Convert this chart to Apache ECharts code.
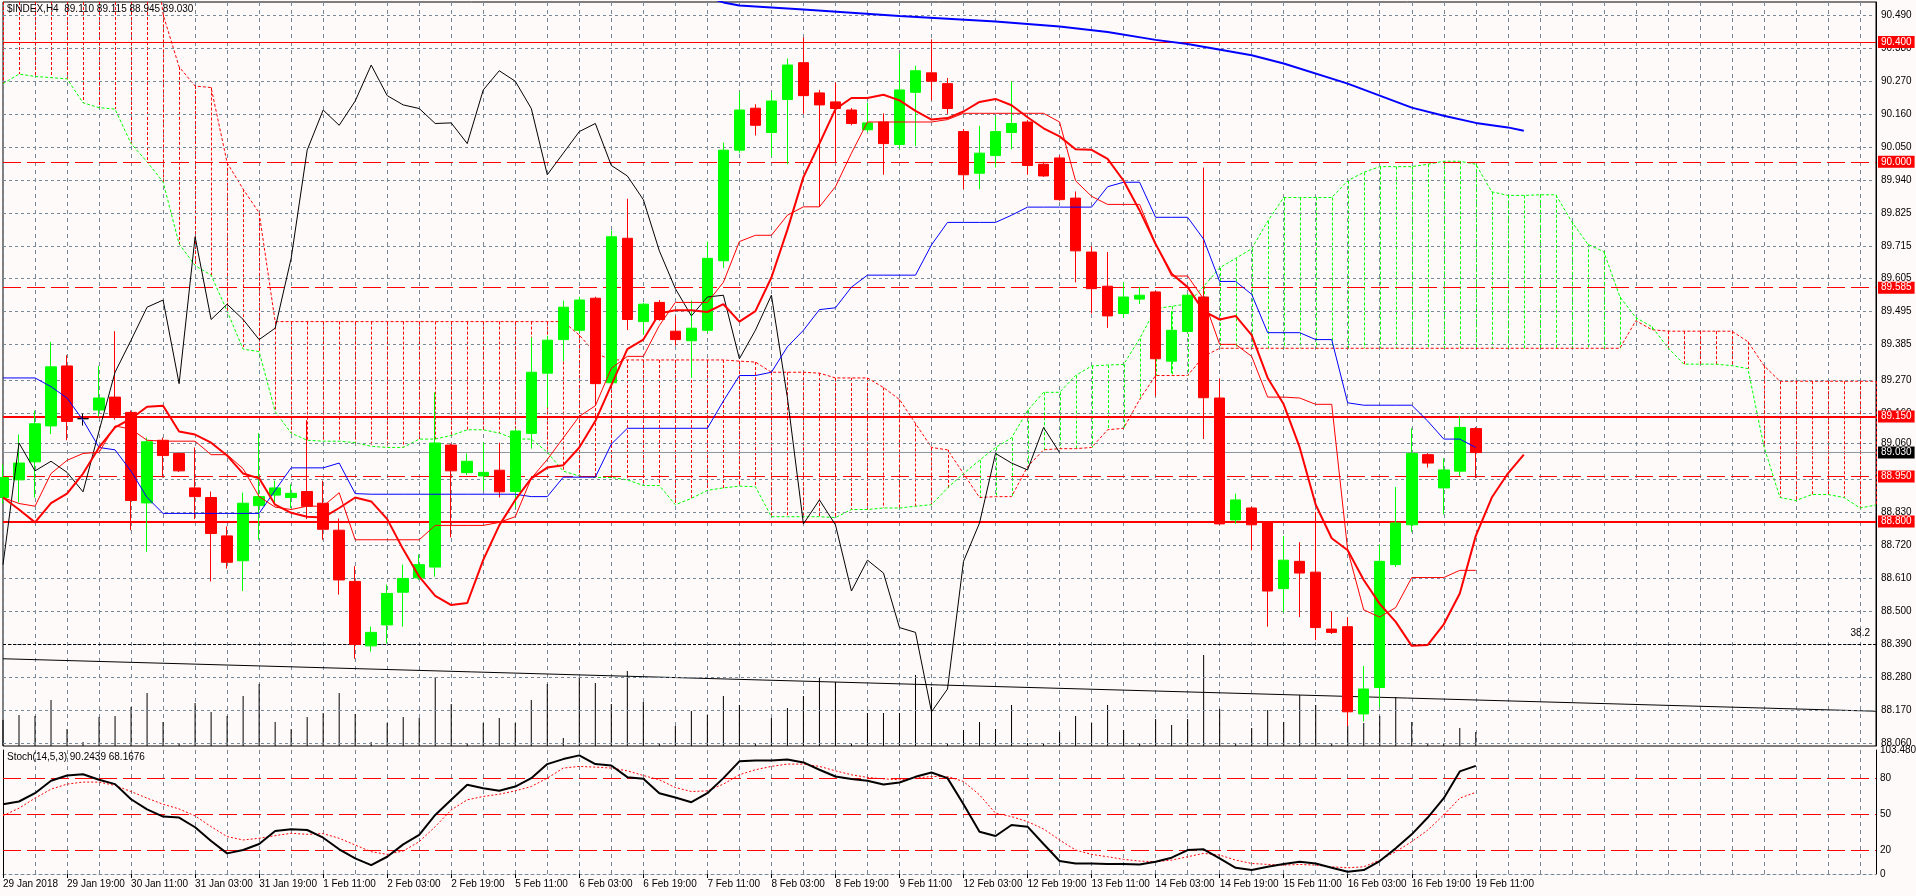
<!DOCTYPE html>
<html><head><meta charset="utf-8">
<script src="https://cdn.jsdelivr.net/npm/echarts@6/dist/echarts.min.js"></script>
<style>html,body{margin:0;padding:0;background:#FFFAFA;}#c{width:1916px;height:896px;}</style>
</head><body><div id="c"></div>
<script>
const FONT = 'Liberation Sans';
const symbolName = '$INDEX,H4';
const stochName = 'Stoch(14,5,3)';
const stochLast = ['90.2439', '68.1676'];

const xTickLabels = ['29 Jan 2018','29 Jan 19:00','30 Jan 11:00','31 Jan 03:00','31 Jan 19:00','1 Feb 11:00','2 Feb 03:00','2 Feb 19:00','5 Feb 11:00','6 Feb 03:00','6 Feb 19:00','7 Feb 11:00','8 Feb 03:00','8 Feb 19:00','9 Feb 11:00','12 Feb 03:00','12 Feb 19:00','13 Feb 11:00','14 Feb 03:00','14 Feb 19:00','15 Feb 11:00','16 Feb 03:00','16 Feb 19:00','19 Feb 11:00'];
const yTickLabels = ['90.490','90.380','90.270','90.160','90.050','89.940','89.825','89.715','89.605','89.495','89.385','89.270','89.160','89.060','88.945','88.830','88.720','88.610','88.500','88.390','88.280','88.170','88.060'];
const stochTickLabels = ['103.4805','80','50','20','0'];
const stochLevels = [80, 50, 20];

const openP = [88.880,88.939,88.999,89.119,89.319,89.143,89.172,89.215,89.164,88.862,
89.071,89.027,88.912,88.880,88.752,88.669,88.853,88.888,88.880,88.900,
88.861,88.771,88.600,88.385,88.455,88.564,88.612,88.648,89.055,88.963,
88.952,88.971,88.900,89.094,89.295,89.407,89.438,89.545,89.263,89.745,
89.467,89.531,89.435,89.403,89.438,89.670,90.039,90.179,90.098,90.208,
90.331,90.230,90.200,90.173,90.107,90.133,90.058,90.232,90.297,90.261,
90.101,89.962,90.021,90.098,90.133,89.992,90.013,89.879,89.699,89.585,
89.494,89.542,89.566,89.335,89.434,89.549,89.212,88.805,88.845,88.795,
88.576,88.667,88.631,88.441,88.449,88.158,88.246,88.656,88.789,89.023,
88.912,88.968,89.110];
const highP = [88.990,89.090,89.170,89.399,89.355,89.160,89.319,89.435,89.170,89.080,
89.080,89.030,89.047,88.900,88.784,88.896,89.095,88.936,88.924,89.138,
88.936,88.810,88.651,88.449,88.589,88.656,88.690,89.231,89.060,89.027,
89.063,89.063,89.110,89.414,89.420,89.537,89.550,89.550,89.771,89.877,
89.530,89.539,89.486,89.537,89.734,90.064,90.232,90.192,90.232,90.345,
90.415,90.240,90.265,90.180,90.197,90.162,90.361,90.321,90.409,90.280,
90.110,90.120,90.152,90.269,90.140,90.000,90.021,89.901,89.718,89.699,
89.598,89.582,89.570,89.502,89.560,89.981,89.276,88.893,88.850,88.800,
88.752,88.731,88.832,88.500,88.481,88.318,88.723,88.915,89.111,89.028,
89.011,89.151,89.115];
const lowP = [88.860,88.864,88.880,89.092,89.071,89.120,89.150,89.140,88.771,88.699,
88.947,88.965,88.808,88.600,88.643,88.568,88.739,88.864,88.845,88.808,
88.739,88.556,88.342,88.366,88.393,88.449,88.605,88.616,88.747,88.955,
88.904,88.880,88.848,89.043,89.180,89.335,89.430,89.191,89.250,89.439,
89.423,89.470,89.387,89.279,89.430,89.646,90.030,90.088,90.018,89.992,
90.160,89.850,89.997,90.122,90.100,89.957,90.045,90.053,90.205,90.160,
89.909,89.909,89.981,90.042,89.957,89.950,89.870,89.598,89.494,89.446,
89.480,89.526,89.218,89.295,89.430,89.075,88.790,88.792,88.704,88.449,
88.497,88.481,88.404,88.425,88.117,88.133,88.180,88.648,88.765,88.980,
88.824,88.952,88.945];
const closeP = [88.947,88.995,89.126,89.316,89.134,89.143,89.212,89.154,88.870,89.066,
89.020,88.969,88.883,88.760,88.664,88.861,88.883,88.912,88.894,88.851,
88.774,88.605,88.390,88.430,88.560,88.610,88.656,89.062,88.969,89.001,
88.964,88.899,89.102,89.298,89.405,89.515,89.539,89.260,89.750,89.474,
89.525,89.474,89.407,89.445,89.678,90.039,90.173,90.122,90.203,90.323,
90.221,90.190,90.178,90.128,90.130,90.061,90.240,90.304,90.269,90.178,
89.957,90.029,90.101,90.128,89.988,89.953,89.874,89.703,89.577,89.486,
89.549,89.555,89.343,89.438,89.555,89.213,88.792,88.872,88.789,88.568,
88.671,88.628,88.446,88.430,88.165,88.241,88.667,88.795,89.027,88.995,
88.972,89.114,89.030];
const volumes = [26,31,30,46,17,4,29,30,39,53,
24,3,43,34,30,50,62,24,17,29,
33,53,32,4,23,29,28,69,42,3,
23,28,23,46,62,8,69,63,42,75,
44,3,20,35,31,50,41,3,28,38,
50,68,64,3,33,33,33,71,59,3,
16,24,17,41,3,3,14,30,23,41,
16,3,27,21,27,91,37,3,18,36,
24,51,41,3,20,23,30,49,24,3,
3,18,14];
const tenkan = [88.880,88.860,88.851,88.960,89.004,89.027,89.031,89.119,89.108,89.071,
89.068,89.068,89.068,89.023,89.023,88.976,88.883,88.848,88.840,88.851,
88.851,88.896,88.739,88.739,88.739,88.739,88.739,88.787,88.787,88.787,
88.787,88.797,88.816,88.944,89.007,89.079,89.151,89.186,89.311,89.351,
89.351,89.454,89.531,89.531,89.531,89.598,89.734,89.755,89.755,89.822,
89.850,89.850,89.917,90.029,90.133,90.133,90.133,90.133,90.133,90.141,
90.162,90.162,90.162,90.162,90.162,90.162,90.133,89.937,89.885,89.858,
89.858,89.858,89.726,89.619,89.619,89.542,89.391,89.391,89.351,89.215,
89.215,89.212,89.191,89.191,88.704,88.505,88.481,88.513,88.613,88.613,
88.613,88.637,88.637];
const kijun = [89.279,89.279,89.279,89.250,89.212,89.138,89.047,89.039,88.968,88.880,
88.827,88.827,88.827,88.827,88.827,88.827,88.827,88.904,88.979,88.979,
88.979,88.995,88.893,88.891,88.891,88.891,88.891,88.891,88.891,88.891,
88.891,88.891,88.891,88.883,88.883,88.948,88.948,88.948,89.058,89.111,
89.111,89.111,89.111,89.111,89.111,89.202,89.287,89.287,89.298,89.383,
89.438,89.507,89.513,89.582,89.622,89.622,89.622,89.622,89.723,89.798,
89.798,89.798,89.798,89.822,89.849,89.849,89.849,89.849,89.849,89.917,
89.932,89.932,89.815,89.815,89.815,89.742,89.601,89.601,89.558,89.430,
89.430,89.430,89.407,89.407,89.196,89.188,89.188,89.188,89.188,89.135,
89.075,89.075,89.047];
const maFast = [88.880,88.840,88.797,88.861,88.893,88.960,89.047,89.114,89.143,89.183,
89.186,89.100,89.090,89.063,89.020,88.960,88.944,88.856,88.829,88.816,
88.813,88.845,88.880,88.867,88.808,88.707,88.616,88.552,88.521,88.528,
88.672,88.787,88.872,88.944,88.980,88.988,89.047,89.135,89.255,89.375,
89.407,89.494,89.505,89.505,89.499,89.525,89.467,89.502,89.614,89.774,
89.949,90.061,90.176,90.213,90.213,90.224,90.205,90.170,90.141,90.146,
90.168,90.200,90.210,90.189,90.149,90.112,90.085,90.042,90.040,90.010,
89.937,89.838,89.726,89.627,89.582,89.502,89.474,89.486,89.422,89.279,
89.191,89.047,88.856,88.744,88.704,88.605,88.525,88.465,88.385,88.388,
88.457,88.560,88.752,88.880,88.960,89.023];
const maSlowBar = [44,45,46,50,56,62,66,69,72,74,78,80,84,86,88,90,92,94,95];
const maSlowVal = [90.550,90.532,90.522,90.508,90.487,90.468,90.452,90.433,90.407,90.393,90.356,90.328,90.261,90.221,90.181,90.154,90.130,90.115,90.104];
const spanRed = [90.90,90.90,90.90,90.90,90.90,90.90,90.90,90.90,90.90,90.90,
90.492,90.317,90.253,90.248,89.997,89.909,89.830,89.467,89.467,89.467,
89.467,89.467,89.467,89.467,89.467,89.467,89.467,89.467,89.467,89.467,
89.467,89.467,89.467,89.467,89.467,89.467,89.422,89.362,89.339,89.339,
89.339,89.339,89.339,89.339,89.339,89.339,89.335,89.332,89.298,89.298,
89.298,89.295,89.279,89.279,89.279,89.247,89.207,89.127,89.047,89.039,
88.960,88.880,88.883,88.883,88.983,89.039,89.043,89.043,89.047,89.106,
89.111,89.207,89.287,89.287,89.287,89.351,89.378,89.378,89.378,89.378,
89.378,89.378,89.378,89.378,89.378,89.378,89.378,89.378,89.378,89.378,
89.378,89.378,89.378,89.378,89.378,89.378,89.378,89.378,89.378,89.378,
89.378,89.378,89.470,89.440,89.435,89.435,89.435,89.435,89.435,89.400,
89.320,89.268,89.268,89.268,89.268,89.268,89.268,89.268];
const spanGreen = [90.261,90.293,90.285,90.281,90.277,90.197,90.181,90.176,90.061,90.000,
89.933,89.726,89.654,89.622,89.502,89.375,89.367,89.167,89.095,89.071,
89.068,89.068,89.063,89.051,89.047,89.047,89.075,89.075,89.087,89.106,
89.106,89.095,89.075,89.075,89.031,88.968,88.952,88.947,88.947,88.939,
88.920,88.920,88.856,88.877,88.904,88.912,88.918,88.916,88.816,88.816,
88.816,88.816,88.813,88.840,88.840,88.845,88.845,88.851,88.856,88.912,
88.960,89.004,89.047,89.079,89.170,89.231,89.231,89.287,89.319,89.322,
89.324,89.410,89.510,89.518,89.526,89.585,89.646,89.678,89.710,89.802,
89.881,89.881,89.881,89.881,89.937,89.965,89.984,89.984,89.984,89.992,
90.002,90.002,89.992,89.900,89.888,89.888,89.890,89.890,89.800,89.725,
89.700,89.550,89.480,89.450,89.380,89.325,89.325,89.325,89.320,89.310,
89.050,88.880,88.870,88.890,88.890,88.880,88.845,88.855];
const trendBar = [0, 117];
const trendVal = [88.342, 88.167];
const fibLevel = 88.392, fibText = '38.2';
const levelValues = [90.400, 90.000, 89.585, 89.150, 88.950, 88.800];
const levelDashed = [false, true, true, false, true, false];
const levelWidth = [1, 1, 1, 2, 1, 2];
const stochK = [58.2,60.5,67.4,77.8,82.2,83.3,78.6,75.0,62.4,54.0,
47.9,47.1,39.0,27.5,17.2,20.0,25.0,35.9,37.3,36.7,
30.3,20.6,13.0,7.4,14.4,24.7,32.6,49.3,61.9,74.4,
71.6,69.4,73.0,80.0,91.7,95.9,99.0,91.7,90.6,80.8,
79.4,67.4,63.8,59.9,67.4,80.0,94.0,94.8,94.8,95.6,
93.1,87.0,81.4,79.2,77.8,74.7,76.4,81.1,84.7,80.0,
58.2,35.3,31.7,40.9,39.5,25.0,10.8,8.8,8.8,8.3,
8.3,8.0,10.2,13.6,20.0,20.6,13.0,5.2,3.3,6.0,
8.3,10.2,8.8,5.2,1.9,3.3,10.8,21.4,33.1,47.1,
63.3,85.6,90.2439];
const stochD = [48.7,54.9,63.3,70.8,75.0,76.7,76.7,73.9,68.8,63.3,
58.2,54.3,48.5,39.5,31.2,28.4,29.8,32.0,34.0,33.1,
33.7,29.8,24.2,18.6,16.4,19.2,27.0,39.5,53.5,61.9,
64.7,66.6,69.4,73.0,80.0,88.4,89.8,89.2,88.4,86.1,
82.2,78.6,72.2,68.8,69.4,75.0,82.8,87.0,89.8,91.7,
91.7,89.8,86.1,82.8,80.6,79.4,78.6,80.0,81.4,81.4,
77.2,66.0,50.7,47.9,43.7,37.6,28.4,20.0,16.4,14.4,
12.2,10.8,10.2,11.6,14.4,17.2,15.8,11.6,8.8,8.0,
7.4,8.0,7.4,6.0,5.2,6.0,11.6,18.6,27.0,36.7,
49.3,63.3,68.1676];

// ---- derived / layout ----
const N_BARS = 118;               // 93 candles + 25 future slots for the shifted cloud
const CHIKOU_SHIFT = 26;
const cats = Array.from({length: N_BARS}, (_, i) => String(i));
const last = closeP.length - 1;
const PRICE_MIN = 88.0509, PRICE_MAX = 90.5334;
const STOCH_MAX = 103.4805;
const GRIDC = '#778899', BULL = '#00FF00', BEAR = '#FF0000', BG = '#FFFAFA';
const showTick = idx => idx % 4 === 0 && idx / 4 < xTickLabels.length;

const candleData = closeP.map((c, i) => {
  const it = {value: [openP[i], c, lowP[i], highP[i]]};
  if (openP[i] === c) it.itemStyle = {color: '#000', color0: '#000', borderColor: '#000', borderColor0: '#000'};
  return it;
});
const chikou = closeP.slice(CHIKOU_SHIFT);
const hatchData = spanRed.map((r, i) => [i, r, spanGreen[i]]);
const nulls = cats.map(() => null);
const txt = {color: '#000', fontSize: 10, fontFamily: FONT};

const header = symbolName + '  ' + [openP[last], highP[last], lowP[last], closeP[last]].map(v => v.toFixed(3)).join(' ');

const chart = echarts.init(document.getElementById('c'));
chart.setOption({
  animation: false,
  backgroundColor: BG,
  textStyle: {fontFamily: FONT},
  graphic: [
    {type: 'text', left: 7, top: 4, z: 100, style: {text: header, font: '10px ' + FONT, fill: '#000'}},
    {type: 'text', left: 7, top: 752, z: 100, style: {text: stochName + ' ' + stochLast.join(' '), font: '10px ' + FONT, fill: '#000'}}
  ],
  grid: [
    {left: 3, right: 40, top: 2, height: 744, show: true, borderColor: '#000', borderWidth: 1, backgroundColor: 'transparent'},
    {left: 3, right: 40, top: 750, height: 124, show: false}
  ],
  xAxis: [
    {type: 'category', gridIndex: 0, data: cats, boundaryGap: false,
     axisLine: {show: false}, axisTick: {show: false}, axisLabel: {show: false},
     splitLine: {show: true, interval: 1, lineStyle: {color: GRIDC, type: [4, 4], width: 1}}},
    {type: 'category', gridIndex: 1, data: cats, boundaryGap: false,
     axisLine: {show: true, lineStyle: {color: GRIDC, type: [3, 3]}},
     axisTick: {show: true, interval: showTick, length: 4, lineStyle: {color: '#000'}},
     axisLabel: Object.assign({interval: showTick, align: 'left', margin: 5,
       formatter: (v, idx) => showTick(idx) ? xTickLabels[idx / 4] : ''}, txt),
     splitLine: {show: true, interval: 1, lineStyle: {color: GRIDC, type: [4, 4], width: 1}}}
  ],
  yAxis: [
    {type: 'value', gridIndex: 0, min: PRICE_MIN, max: PRICE_MAX, position: 'right', scale: true,
     axisLine: {show: true, lineStyle: {color: '#000'}}, axisTick: {show: false}, axisLabel: {show: false}, splitLine: {show: false}},
    {type: 'value', gridIndex: 0, min: 0, max: 744, show: false, splitLine: {show: false}},
    {type: 'value', gridIndex: 1, min: 0, max: STOCH_MAX, position: 'right',
     axisLine: {show: true, lineStyle: {color: '#000'}}, axisTick: {show: false}, axisLabel: {show: false}, splitLine: {show: false}},
    {type: 'value', gridIndex: 1, min: 0, max: STOCH_MAX, position: 'left',
     axisLine: {show: true, lineStyle: {color: '#000'}}, axisTick: {show: false}, axisLabel: {show: false}, splitLine: {show: false}}
  ],
  series: [
    // Ichimoku cloud hatch
    {type: 'custom', xAxisIndex: 0, yAxisIndex: 0, z: 1, silent: true, data: hatchData,
     renderItem: (params, api) => {
       const k = api.value(0), a = api.value(1), b = api.value(2);
       const p1 = api.coord([k, a]), p2 = api.coord([k, b]);
       const cs = params.coordSys;
       const y1 = Math.max(Math.min(p1[1], p2[1]), cs.y);
       const y2 = Math.min(Math.max(p1[1], p2[1]), cs.y + cs.height);
       if (y2 <= y1) return null;
       const x = Math.round(p1[0]) + 0.5;
       return {type: 'line', shape: {x1: x, y1: y1, x2: x, y2: y2},
               style: {stroke: a >= b ? BEAR : BULL, lineWidth: 1, lineDash: [3, 2]}};
     }},
    // price grid + tick labels
    {type: 'line', xAxisIndex: 0, yAxisIndex: 0, z: 2, data: nulls, silent: true,
     markLine: {symbol: ['none', 'none'], silent: true, animation: false,
       lineStyle: {color: GRIDC, type: [3, 3], width: 1},
       label: Object.assign({show: true, position: 'end', distance: 5}, txt),
       data: yTickLabels.map(t => ({yAxis: parseFloat(t), label: {formatter: t}}))}},
    // volumes
    {type: 'bar', xAxisIndex: 0, yAxisIndex: 1, z: 3, data: volumes, barWidth: 1, silent: true,
     itemStyle: {color: '#000'}},
    // trend line
    {type: 'line', xAxisIndex: 0, yAxisIndex: 0, z: 3, showSymbol: false, silent: true,
     data: trendBar.map((b, i) => [b, trendVal[i]]), lineStyle: {color: '#000', width: 1}},
    // fibo level
    {type: 'line', xAxisIndex: 0, yAxisIndex: 0, z: 3, data: nulls, silent: true,
     markLine: {symbol: ['none', 'none'], silent: true, animation: false,
       data: [{yAxis: fibLevel, lineStyle: {color: '#000', type: [3, 2], width: 1},
               label: Object.assign({show: true, position: 'insideEndTop', distance: 6, formatter: fibText}, txt)}]}},
    // cloud boundaries
    {type: 'line', xAxisIndex: 0, yAxisIndex: 0, z: 3, showSymbol: false, silent: true, data: spanRed,
     lineStyle: {color: BEAR, width: 1, type: [3, 2]}},
    {type: 'line', xAxisIndex: 0, yAxisIndex: 0, z: 3, showSymbol: false, silent: true, data: spanGreen,
     lineStyle: {color: BULL, width: 1, type: [3, 2]}},
    // horizontal levels + bid
    {type: 'line', xAxisIndex: 0, yAxisIndex: 0, z: 5, data: nulls, silent: true,
     markLine: {symbol: ['none', 'none'], silent: true, animation: false,
       data: levelValues.map((v, i) => ({yAxis: v,
         lineStyle: {color: BEAR, width: levelWidth[i], type: levelDashed[i] ? [18, 6] : 'solid'},
         label: {show: true, position: 'end', distance: 2, formatter: v.toFixed(3), color: '#fff',
                 backgroundColor: BEAR, padding: [1, 3, 0, 3], fontSize: 10, fontFamily: FONT, lineHeight: 11}}))
         .concat([{yAxis: closeP[last], lineStyle: {color: '#8C96A0', width: 1, type: 'solid'},
           label: {show: true, position: 'end', distance: 2, formatter: closeP[last].toFixed(3), color: '#fff',
                   backgroundColor: '#000', padding: [1, 3, 0, 3], fontSize: 10, fontFamily: FONT, lineHeight: 11}}])}},
    // candles
    {type: 'candlestick', xAxisIndex: 0, yAxisIndex: 0, z: 6, barWidth: 11, clip: true, silent: true,
     data: candleData,
     itemStyle: {color: BULL, color0: BEAR, borderColor: BULL, borderColor0: BEAR, borderWidth: 1}},
    // indicators
    {type: 'line', xAxisIndex: 0, yAxisIndex: 0, z: 7, showSymbol: false, silent: true, data: chikou,
     lineStyle: {color: '#000', width: 1}},
    {type: 'line', xAxisIndex: 0, yAxisIndex: 0, z: 7, showSymbol: false, silent: true, data: kijun,
     lineStyle: {color: '#0000FF', width: 1}},
    {type: 'line', xAxisIndex: 0, yAxisIndex: 0, z: 7, showSymbol: false, silent: true, data: tenkan,
     lineStyle: {color: '#FF0000', width: 1}},
    {type: 'line', xAxisIndex: 0, yAxisIndex: 0, z: 8, showSymbol: false, silent: true, data: maFast,
     lineStyle: {color: '#FF0000', width: 2}},
    {type: 'line', xAxisIndex: 0, yAxisIndex: 0, z: 8, showSymbol: false, silent: true,
     data: maSlowBar.map((b, i) => [b, maSlowVal[i]]), lineStyle: {color: '#0000FF', width: 2}},
    // stochastic panel
    {type: 'line', xAxisIndex: 1, yAxisIndex: 2, z: 2, data: nulls, silent: true,
     markLine: {symbol: ['none', 'none'], silent: true, animation: false,
       label: Object.assign({show: true, position: 'end', distance: 4}, txt),
       data: stochLevels.map(v => ({yAxis: v, lineStyle: {color: BEAR, type: [18, 6], width: 1},
                                    label: Object.assign({show: true, position: 'end', distance: 4, formatter: String(v)}, txt)}))
         .concat([
           {yAxis: STOCH_MAX, lineStyle: {color: 'rgba(0,0,0,0)', width: 1},
            label: Object.assign({show: true, position: 'end', distance: 4, formatter: stochTickLabels[0], padding: [10, 0, 0, 0]}, txt)},
           {yAxis: 0.0001, lineStyle: {color: 'rgba(0,0,0,0)', width: 1},
            label: Object.assign({show: true, position: 'end', distance: 4, formatter: stochTickLabels[4], padding: [0, 0, 12, 0]}, txt)}
         ])}},
    {type: 'line', xAxisIndex: 1, yAxisIndex: 2, z: 5, showSymbol: false, silent: true, data: stochD,
     lineStyle: {color: '#FF0000', width: 1, type: [2, 2]}},
    {type: 'line', xAxisIndex: 1, yAxisIndex: 2, z: 6, showSymbol: false, silent: true, data: stochK,
     lineStyle: {color: '#000', width: 2}}
  ]
});
</script>
</body></html>
